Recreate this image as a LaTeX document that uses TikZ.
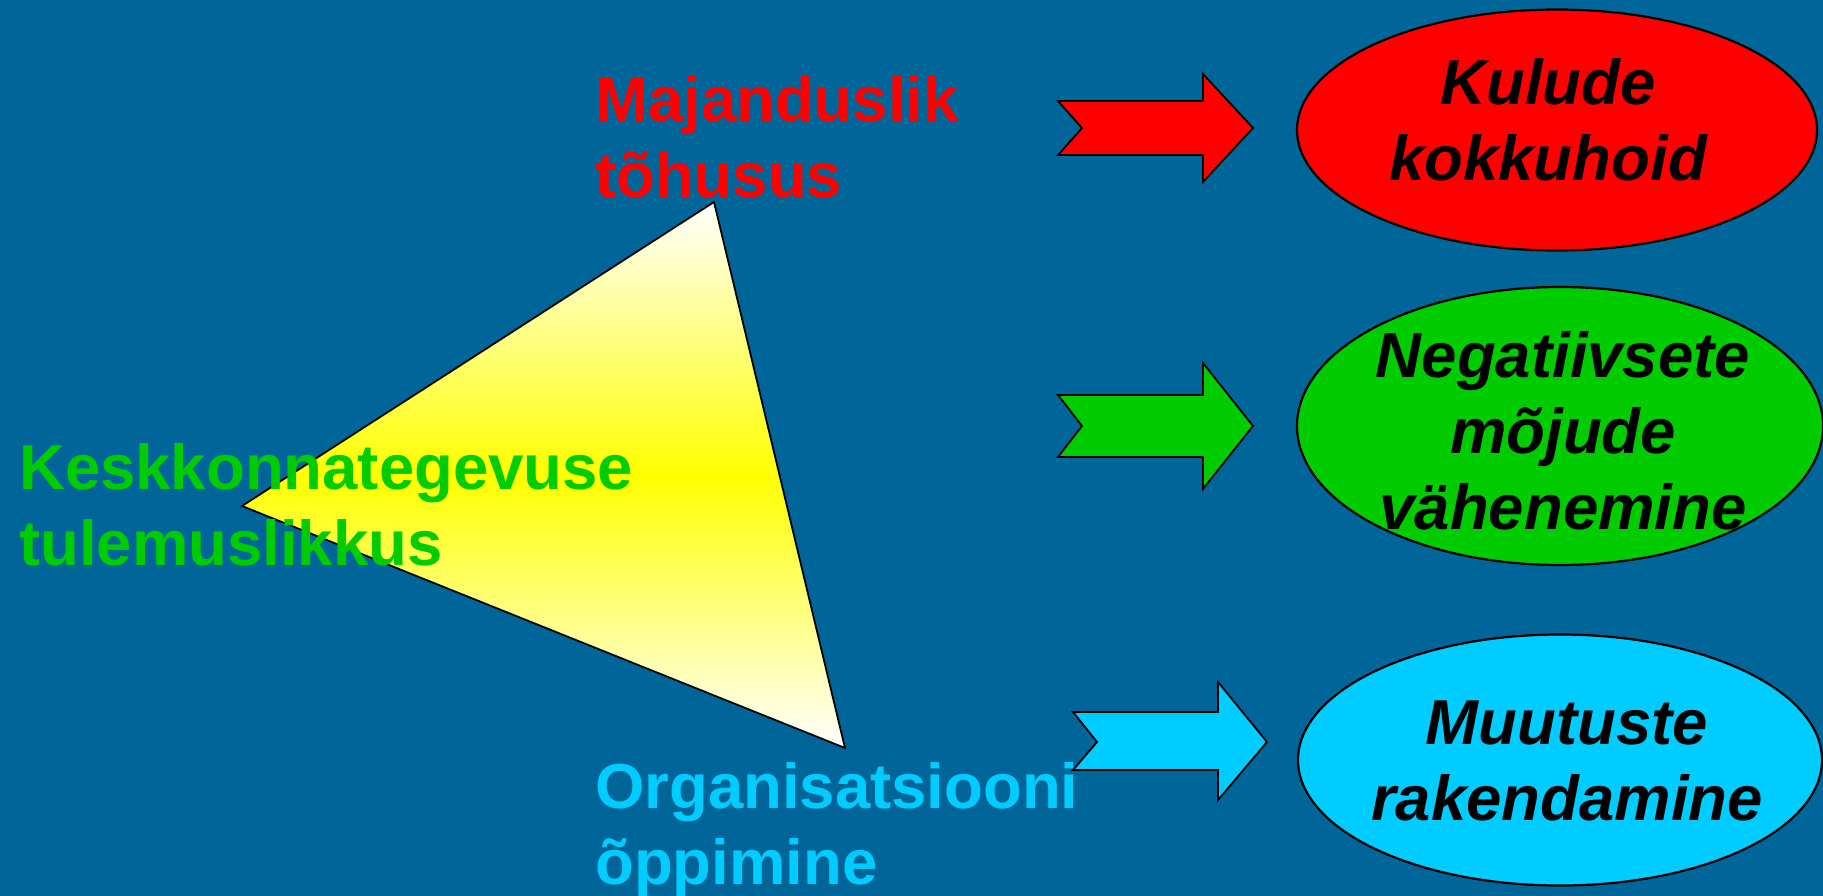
\documentclass[tikz,border=0pt]{standalone}
\usepackage{fontspec}
\setmainfont{Liberation Sans}
\usetikzlibrary{shapes.geometric}
\definecolor{bgblue}{RGB}{0,102,153}
\definecolor{lblred}{RGB}{255,0,0}
\definecolor{lblgreen}{RGB}{0,204,0}
\definecolor{lblcyan}{RGB}{0,204,255}
\tikzset{
  lbl/.style={inner sep=0pt, anchor=base west, align=left,
    font=\fontsize{63.5}{76}\selectfont\bfseries},
  etext/.style={inner sep=0pt, anchor=base, align=center, text=black,
    font=\fontsize{63.5}{76}\selectfont\bfseries\itshape},
  oval/.style={ellipse, draw=black, line width=2.2pt, inner sep=0pt},
  bigarrow/.style={draw=black, line width=1.8pt, line join=miter},
  tri/.style={draw=black, line width=1.8pt, top color=white, bottom color=white, middle color=yellow}
}
\begin{document}
\begin{tikzpicture}[x=1pt,y=-1pt]
\useasboundingbox (0,0) rectangle (1823,896);
\fill[bgblue] (0,0) rectangle (1823,896);
% triangle
\coordinate (tA) at (714,202);
\coordinate (tB) at (242,506);
\coordinate (tC) at (845,748);
\path[tri] (tA) -- (tB) -- (tC) -- cycle;
% left labels (anchored at the baseline of the last line)
\node[lbl, text=lblgreen] (kesk) at (19,565) {Keskkonnategevuse\\tulemuslikkus};
\node[lbl, text=lblred] (maj) at (595,198) {Majanduslik\\tõhusus};
\node[lbl, text=lblcyan] (org) at (595,884) {Organisatsiooni\\õppimine};
% arrows
\path[bigarrow, fill=lblred] (1058,101) -- (1203,101) -- (1203,74) -- (1253,128) -- (1203,182) -- (1203,155) -- (1058,155) -- (1082,128) -- cycle;
\path[bigarrow, fill=lblgreen] (1058,395) -- (1203,395) -- (1203,363) -- (1253,426) -- (1203,489) -- (1203,457) -- (1058,457) -- (1082,426) -- cycle;
\path[bigarrow, fill=lblcyan] (1073,712) -- (1218,712) -- (1218,682) -- (1267,742) -- (1218,800) -- (1218,770) -- (1073,770) -- (1097,742) -- cycle;
% ellipses
\node[oval, fill=lblred, minimum width=520pt, minimum height=241pt] (e1) at (1557,130) {};
\node[oval, fill=lblgreen, minimum width=526pt, minimum height=278pt] (e2) at (1560,426) {};
\node[oval, fill=lblcyan, minimum width=524pt, minimum height=251pt] (e3) at (1560,760) {};
% ellipse texts
\node[etext] (t1) at (1548,181) {Kulude\\kokkuhoid};
\node[etext] (t2) at (1563,529) {Negatiivsete\\mõjude\\vähenemine};
\node[etext] (t3) at (1567,820) {Muutuste\\rakendamine};
\end{tikzpicture}
\end{document}
